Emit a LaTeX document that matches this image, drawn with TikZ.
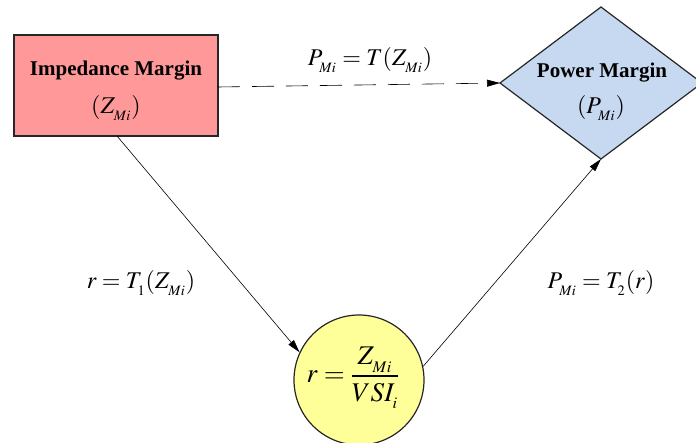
\documentclass[tikz,border=0pt]{standalone}
\usepackage{mathptmx}
\usepackage{fontspec}
\setmainfont{Liberation Serif}
\usetikzlibrary{shapes.geometric,arrows.meta}
\begin{document}
\begin{tikzpicture}[x=1pt,y=-1pt,
  box/.style={draw=black!85,line width=1.2pt},
  conn/.style={draw=black,line width=0.6pt,-{Triangle[length=13pt,width=7pt]}},
  lbl/.style={font=\fontsize{24}{28}\selectfont},
  ttl/.style={font=\fontsize{21}{25}\selectfont\bfseries}]
\useasboundingbox (0,0) rectangle (696,443);
\fill[box,fill={rgb,255:red,255;green,153;blue,153}] (14,35) rectangle (218,136);
\node[ttl] (imt) at (116,71) {Impedance Margin};
\node[lbl] (imz) at (116,108) {$(Z_{_{Mi}})$};
\fill[box,fill={rgb,255:red,198;green,217;blue,240}] (500,83) -- (601,7) -- (702,83) -- (601,159) -- cycle;
\coordinate (pmL) at (500,83);
\coordinate (pmB) at (601,159);
\node[ttl] (pmt) at (602,73) {Power Margin};
\node[lbl] (pmz) at (601,108) {$(P_{_{Mi}})$};
\node[box,circle,fill={rgb,255:red,255;green,255;blue,153},minimum size=130pt,inner sep=0pt] (r) at (359,380) {};
\node[lbl,font=\fontsize{27}{30}\selectfont] (rt) at (353,378) {$r=\displaystyle\frac{Z_{_{Mi}}}{VSI_{_i}}$};
\coordinate (imE) at (218,87);
\coordinate (imB) at (117,136);
\draw[conn,dashed,dash pattern=on 22pt off 12pt] (imE) -- (pmL);
\draw[conn] (imB) -- (r.155);
\draw[conn] (r.12) -- (pmB);
\node[lbl] (l1) at (370,60) {$P_{_{Mi}}=T(Z_{_{Mi}})$};
\node[lbl] (l2) at (141,283) {$r=T_{_1}(Z_{_{Mi}})$};
\node[lbl] (l3) at (601,283) {$P_{_{Mi}}=T_{_2}(r)$};
\end{tikzpicture}
\end{document}
